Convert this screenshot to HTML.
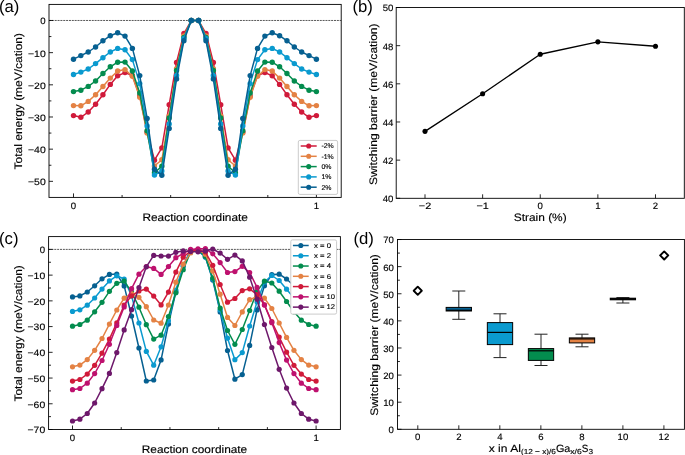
<!DOCTYPE html>
<html><head><meta charset="utf-8"><style>
html,body{margin:0;padding:0;background:#fff;}
body{width:685px;height:455px;overflow:hidden;}
svg{display:block;font-family:"Liberation Sans", sans-serif;will-change:transform;text-rendering:geometricPrecision;}
text{fill:#000;stroke:#000;stroke-width:0.15px;}
</style></head><body>
<svg width="685" height="455" viewBox="0 0 685 455">
<rect width="685" height="455" fill="#fff"/>
<text x="-1.00" y="11.90" font-size="16.7" text-anchor="start" style="stroke-width:0">(a)</text>
<line x1="49.00" y1="20.48" x2="341.20" y2="20.48" stroke="#222" stroke-width="0.75" stroke-dasharray="2 0.85"/>
<polyline points="73.50,115.60 80.86,117.30 88.22,112.00 95.58,104.30 102.94,94.70 110.30,84.40 117.66,75.70 125.02,72.60 132.38,75.50 139.75,96.00 147.11,132.00 154.47,160.20 161.83,147.90 169.19,104.70 176.55,62.50 183.91,33.50 191.27,20.50 198.63,20.50 205.99,33.50 213.35,62.50 220.71,104.70 228.07,147.90 235.43,160.20 242.79,132.00 250.15,96.00 257.52,75.50 264.88,72.60 272.24,75.70 279.60,84.40 286.96,94.70 294.32,104.30 301.68,112.00 309.04,117.30 316.40,115.60" fill="none" stroke="#d01a3a" stroke-width="1.5" stroke-linejoin="round"/>
<circle cx="73.50" cy="115.60" r="2.7" fill="#d01a3a"/>
<circle cx="80.86" cy="117.30" r="2.7" fill="#d01a3a"/>
<circle cx="88.22" cy="112.00" r="2.7" fill="#d01a3a"/>
<circle cx="95.58" cy="104.30" r="2.7" fill="#d01a3a"/>
<circle cx="102.94" cy="94.70" r="2.7" fill="#d01a3a"/>
<circle cx="110.30" cy="84.40" r="2.7" fill="#d01a3a"/>
<circle cx="117.66" cy="75.70" r="2.7" fill="#d01a3a"/>
<circle cx="125.02" cy="72.60" r="2.7" fill="#d01a3a"/>
<circle cx="132.38" cy="75.50" r="2.7" fill="#d01a3a"/>
<circle cx="139.75" cy="96.00" r="2.7" fill="#d01a3a"/>
<circle cx="147.11" cy="132.00" r="2.7" fill="#d01a3a"/>
<circle cx="154.47" cy="160.20" r="2.7" fill="#d01a3a"/>
<circle cx="161.83" cy="147.90" r="2.7" fill="#d01a3a"/>
<circle cx="169.19" cy="104.70" r="2.7" fill="#d01a3a"/>
<circle cx="176.55" cy="62.50" r="2.7" fill="#d01a3a"/>
<circle cx="183.91" cy="33.50" r="2.7" fill="#d01a3a"/>
<circle cx="191.27" cy="20.50" r="2.7" fill="#d01a3a"/>
<circle cx="198.63" cy="20.50" r="2.7" fill="#d01a3a"/>
<circle cx="205.99" cy="33.50" r="2.7" fill="#d01a3a"/>
<circle cx="213.35" cy="62.50" r="2.7" fill="#d01a3a"/>
<circle cx="220.71" cy="104.70" r="2.7" fill="#d01a3a"/>
<circle cx="228.07" cy="147.90" r="2.7" fill="#d01a3a"/>
<circle cx="235.43" cy="160.20" r="2.7" fill="#d01a3a"/>
<circle cx="242.79" cy="132.00" r="2.7" fill="#d01a3a"/>
<circle cx="250.15" cy="96.00" r="2.7" fill="#d01a3a"/>
<circle cx="257.52" cy="75.50" r="2.7" fill="#d01a3a"/>
<circle cx="264.88" cy="72.60" r="2.7" fill="#d01a3a"/>
<circle cx="272.24" cy="75.70" r="2.7" fill="#d01a3a"/>
<circle cx="279.60" cy="84.40" r="2.7" fill="#d01a3a"/>
<circle cx="286.96" cy="94.70" r="2.7" fill="#d01a3a"/>
<circle cx="294.32" cy="104.30" r="2.7" fill="#d01a3a"/>
<circle cx="301.68" cy="112.00" r="2.7" fill="#d01a3a"/>
<circle cx="309.04" cy="117.30" r="2.7" fill="#d01a3a"/>
<circle cx="316.40" cy="115.60" r="2.7" fill="#d01a3a"/>
<polyline points="73.50,105.60 80.86,105.80 88.22,101.40 95.58,94.80 102.94,86.50 110.30,78.10 117.66,71.00 125.02,69.60 132.38,76.30 139.75,97.20 147.11,133.00 154.47,166.00 161.83,159.80 169.19,116.00 176.55,68.80 183.91,36.00 191.27,20.50 198.63,20.50 205.99,36.00 213.35,68.80 220.71,116.00 228.07,159.80 235.43,166.00 242.79,133.00 250.15,97.20 257.52,76.30 264.88,69.60 272.24,71.00 279.60,78.10 286.96,86.50 294.32,94.80 301.68,101.40 309.04,105.80 316.40,105.60" fill="none" stroke="#e48244" stroke-width="1.5" stroke-linejoin="round"/>
<circle cx="73.50" cy="105.60" r="2.7" fill="#e48244"/>
<circle cx="80.86" cy="105.80" r="2.7" fill="#e48244"/>
<circle cx="88.22" cy="101.40" r="2.7" fill="#e48244"/>
<circle cx="95.58" cy="94.80" r="2.7" fill="#e48244"/>
<circle cx="102.94" cy="86.50" r="2.7" fill="#e48244"/>
<circle cx="110.30" cy="78.10" r="2.7" fill="#e48244"/>
<circle cx="117.66" cy="71.00" r="2.7" fill="#e48244"/>
<circle cx="125.02" cy="69.60" r="2.7" fill="#e48244"/>
<circle cx="132.38" cy="76.30" r="2.7" fill="#e48244"/>
<circle cx="139.75" cy="97.20" r="2.7" fill="#e48244"/>
<circle cx="147.11" cy="133.00" r="2.7" fill="#e48244"/>
<circle cx="154.47" cy="166.00" r="2.7" fill="#e48244"/>
<circle cx="161.83" cy="159.80" r="2.7" fill="#e48244"/>
<circle cx="169.19" cy="116.00" r="2.7" fill="#e48244"/>
<circle cx="176.55" cy="68.80" r="2.7" fill="#e48244"/>
<circle cx="183.91" cy="36.00" r="2.7" fill="#e48244"/>
<circle cx="191.27" cy="20.50" r="2.7" fill="#e48244"/>
<circle cx="198.63" cy="20.50" r="2.7" fill="#e48244"/>
<circle cx="205.99" cy="36.00" r="2.7" fill="#e48244"/>
<circle cx="213.35" cy="68.80" r="2.7" fill="#e48244"/>
<circle cx="220.71" cy="116.00" r="2.7" fill="#e48244"/>
<circle cx="228.07" cy="159.80" r="2.7" fill="#e48244"/>
<circle cx="235.43" cy="166.00" r="2.7" fill="#e48244"/>
<circle cx="242.79" cy="133.00" r="2.7" fill="#e48244"/>
<circle cx="250.15" cy="97.20" r="2.7" fill="#e48244"/>
<circle cx="257.52" cy="76.30" r="2.7" fill="#e48244"/>
<circle cx="264.88" cy="69.60" r="2.7" fill="#e48244"/>
<circle cx="272.24" cy="71.00" r="2.7" fill="#e48244"/>
<circle cx="279.60" cy="78.10" r="2.7" fill="#e48244"/>
<circle cx="286.96" cy="86.50" r="2.7" fill="#e48244"/>
<circle cx="294.32" cy="94.80" r="2.7" fill="#e48244"/>
<circle cx="301.68" cy="101.40" r="2.7" fill="#e48244"/>
<circle cx="309.04" cy="105.80" r="2.7" fill="#e48244"/>
<circle cx="316.40" cy="105.60" r="2.7" fill="#e48244"/>
<polyline points="73.50,91.60 80.86,90.20 88.22,86.40 95.58,81.00 102.94,73.50 110.30,66.80 117.66,62.20 125.02,62.10 132.38,71.00 139.75,93.00 147.11,130.80 154.47,172.70 161.83,166.20 169.19,117.90 176.55,70.50 183.91,37.50 191.27,20.50 198.63,20.50 205.99,37.50 213.35,70.50 220.71,117.90 228.07,166.20 235.43,172.70 242.79,130.80 250.15,93.00 257.52,71.00 264.88,62.10 272.24,62.20 279.60,66.80 286.96,73.50 294.32,81.00 301.68,86.40 309.04,90.20 316.40,91.60" fill="none" stroke="#038c4e" stroke-width="1.5" stroke-linejoin="round"/>
<circle cx="73.50" cy="91.60" r="2.7" fill="#038c4e"/>
<circle cx="80.86" cy="90.20" r="2.7" fill="#038c4e"/>
<circle cx="88.22" cy="86.40" r="2.7" fill="#038c4e"/>
<circle cx="95.58" cy="81.00" r="2.7" fill="#038c4e"/>
<circle cx="102.94" cy="73.50" r="2.7" fill="#038c4e"/>
<circle cx="110.30" cy="66.80" r="2.7" fill="#038c4e"/>
<circle cx="117.66" cy="62.20" r="2.7" fill="#038c4e"/>
<circle cx="125.02" cy="62.10" r="2.7" fill="#038c4e"/>
<circle cx="132.38" cy="71.00" r="2.7" fill="#038c4e"/>
<circle cx="139.75" cy="93.00" r="2.7" fill="#038c4e"/>
<circle cx="147.11" cy="130.80" r="2.7" fill="#038c4e"/>
<circle cx="154.47" cy="172.70" r="2.7" fill="#038c4e"/>
<circle cx="161.83" cy="166.20" r="2.7" fill="#038c4e"/>
<circle cx="169.19" cy="117.90" r="2.7" fill="#038c4e"/>
<circle cx="176.55" cy="70.50" r="2.7" fill="#038c4e"/>
<circle cx="183.91" cy="37.50" r="2.7" fill="#038c4e"/>
<circle cx="191.27" cy="20.50" r="2.7" fill="#038c4e"/>
<circle cx="198.63" cy="20.50" r="2.7" fill="#038c4e"/>
<circle cx="205.99" cy="37.50" r="2.7" fill="#038c4e"/>
<circle cx="213.35" cy="70.50" r="2.7" fill="#038c4e"/>
<circle cx="220.71" cy="117.90" r="2.7" fill="#038c4e"/>
<circle cx="228.07" cy="166.20" r="2.7" fill="#038c4e"/>
<circle cx="235.43" cy="172.70" r="2.7" fill="#038c4e"/>
<circle cx="242.79" cy="130.80" r="2.7" fill="#038c4e"/>
<circle cx="250.15" cy="93.00" r="2.7" fill="#038c4e"/>
<circle cx="257.52" cy="71.00" r="2.7" fill="#038c4e"/>
<circle cx="264.88" cy="62.10" r="2.7" fill="#038c4e"/>
<circle cx="272.24" cy="62.20" r="2.7" fill="#038c4e"/>
<circle cx="279.60" cy="66.80" r="2.7" fill="#038c4e"/>
<circle cx="286.96" cy="73.50" r="2.7" fill="#038c4e"/>
<circle cx="294.32" cy="81.00" r="2.7" fill="#038c4e"/>
<circle cx="301.68" cy="86.40" r="2.7" fill="#038c4e"/>
<circle cx="309.04" cy="90.20" r="2.7" fill="#038c4e"/>
<circle cx="316.40" cy="91.60" r="2.7" fill="#038c4e"/>
<polyline points="73.50,74.50 80.86,72.10 88.22,69.00 95.58,63.60 102.94,57.70 110.30,52.00 117.66,48.40 125.02,49.80 132.38,59.60 139.75,83.60 147.11,126.00 154.47,175.10 161.83,171.00 169.19,124.00 176.55,75.40 183.91,38.50 191.27,20.50 198.63,20.50 205.99,38.50 213.35,75.40 220.71,124.00 228.07,171.00 235.43,175.10 242.79,126.00 250.15,83.60 257.52,59.60 264.88,49.80 272.24,48.40 279.60,52.00 286.96,57.70 294.32,63.60 301.68,69.00 309.04,72.10 316.40,74.50" fill="none" stroke="#0a9acf" stroke-width="1.5" stroke-linejoin="round"/>
<circle cx="73.50" cy="74.50" r="2.7" fill="#0a9acf"/>
<circle cx="80.86" cy="72.10" r="2.7" fill="#0a9acf"/>
<circle cx="88.22" cy="69.00" r="2.7" fill="#0a9acf"/>
<circle cx="95.58" cy="63.60" r="2.7" fill="#0a9acf"/>
<circle cx="102.94" cy="57.70" r="2.7" fill="#0a9acf"/>
<circle cx="110.30" cy="52.00" r="2.7" fill="#0a9acf"/>
<circle cx="117.66" cy="48.40" r="2.7" fill="#0a9acf"/>
<circle cx="125.02" cy="49.80" r="2.7" fill="#0a9acf"/>
<circle cx="132.38" cy="59.60" r="2.7" fill="#0a9acf"/>
<circle cx="139.75" cy="83.60" r="2.7" fill="#0a9acf"/>
<circle cx="147.11" cy="126.00" r="2.7" fill="#0a9acf"/>
<circle cx="154.47" cy="175.10" r="2.7" fill="#0a9acf"/>
<circle cx="161.83" cy="171.00" r="2.7" fill="#0a9acf"/>
<circle cx="169.19" cy="124.00" r="2.7" fill="#0a9acf"/>
<circle cx="176.55" cy="75.40" r="2.7" fill="#0a9acf"/>
<circle cx="183.91" cy="38.50" r="2.7" fill="#0a9acf"/>
<circle cx="191.27" cy="20.50" r="2.7" fill="#0a9acf"/>
<circle cx="198.63" cy="20.50" r="2.7" fill="#0a9acf"/>
<circle cx="205.99" cy="38.50" r="2.7" fill="#0a9acf"/>
<circle cx="213.35" cy="75.40" r="2.7" fill="#0a9acf"/>
<circle cx="220.71" cy="124.00" r="2.7" fill="#0a9acf"/>
<circle cx="228.07" cy="171.00" r="2.7" fill="#0a9acf"/>
<circle cx="235.43" cy="175.10" r="2.7" fill="#0a9acf"/>
<circle cx="242.79" cy="126.00" r="2.7" fill="#0a9acf"/>
<circle cx="250.15" cy="83.60" r="2.7" fill="#0a9acf"/>
<circle cx="257.52" cy="59.60" r="2.7" fill="#0a9acf"/>
<circle cx="264.88" cy="49.80" r="2.7" fill="#0a9acf"/>
<circle cx="272.24" cy="48.40" r="2.7" fill="#0a9acf"/>
<circle cx="279.60" cy="52.00" r="2.7" fill="#0a9acf"/>
<circle cx="286.96" cy="57.70" r="2.7" fill="#0a9acf"/>
<circle cx="294.32" cy="63.60" r="2.7" fill="#0a9acf"/>
<circle cx="301.68" cy="69.00" r="2.7" fill="#0a9acf"/>
<circle cx="309.04" cy="72.10" r="2.7" fill="#0a9acf"/>
<circle cx="316.40" cy="74.50" r="2.7" fill="#0a9acf"/>
<polyline points="73.50,59.20 80.86,55.60 88.22,52.00 95.58,47.00 102.94,40.80 110.30,35.70 117.66,32.80 125.02,36.10 132.38,48.40 139.75,75.60 147.11,118.40 154.47,169.20 161.83,175.30 169.19,128.40 176.55,78.90 183.91,40.70 191.27,20.50 198.63,20.50 205.99,40.70 213.35,78.90 220.71,128.40 228.07,175.30 235.43,169.20 242.79,118.40 250.15,75.60 257.52,48.40 264.88,36.10 272.24,32.80 279.60,35.70 286.96,40.80 294.32,47.00 301.68,52.00 309.04,55.60 316.40,59.20" fill="none" stroke="#066091" stroke-width="1.5" stroke-linejoin="round"/>
<circle cx="73.50" cy="59.20" r="2.7" fill="#066091"/>
<circle cx="80.86" cy="55.60" r="2.7" fill="#066091"/>
<circle cx="88.22" cy="52.00" r="2.7" fill="#066091"/>
<circle cx="95.58" cy="47.00" r="2.7" fill="#066091"/>
<circle cx="102.94" cy="40.80" r="2.7" fill="#066091"/>
<circle cx="110.30" cy="35.70" r="2.7" fill="#066091"/>
<circle cx="117.66" cy="32.80" r="2.7" fill="#066091"/>
<circle cx="125.02" cy="36.10" r="2.7" fill="#066091"/>
<circle cx="132.38" cy="48.40" r="2.7" fill="#066091"/>
<circle cx="139.75" cy="75.60" r="2.7" fill="#066091"/>
<circle cx="147.11" cy="118.40" r="2.7" fill="#066091"/>
<circle cx="154.47" cy="169.20" r="2.7" fill="#066091"/>
<circle cx="161.83" cy="175.30" r="2.7" fill="#066091"/>
<circle cx="169.19" cy="128.40" r="2.7" fill="#066091"/>
<circle cx="176.55" cy="78.90" r="2.7" fill="#066091"/>
<circle cx="183.91" cy="40.70" r="2.7" fill="#066091"/>
<circle cx="191.27" cy="20.50" r="2.7" fill="#066091"/>
<circle cx="198.63" cy="20.50" r="2.7" fill="#066091"/>
<circle cx="205.99" cy="40.70" r="2.7" fill="#066091"/>
<circle cx="213.35" cy="78.90" r="2.7" fill="#066091"/>
<circle cx="220.71" cy="128.40" r="2.7" fill="#066091"/>
<circle cx="228.07" cy="175.30" r="2.7" fill="#066091"/>
<circle cx="235.43" cy="169.20" r="2.7" fill="#066091"/>
<circle cx="242.79" cy="118.40" r="2.7" fill="#066091"/>
<circle cx="250.15" cy="75.60" r="2.7" fill="#066091"/>
<circle cx="257.52" cy="48.40" r="2.7" fill="#066091"/>
<circle cx="264.88" cy="36.10" r="2.7" fill="#066091"/>
<circle cx="272.24" cy="32.80" r="2.7" fill="#066091"/>
<circle cx="279.60" cy="35.70" r="2.7" fill="#066091"/>
<circle cx="286.96" cy="40.80" r="2.7" fill="#066091"/>
<circle cx="294.32" cy="47.00" r="2.7" fill="#066091"/>
<circle cx="301.68" cy="52.00" r="2.7" fill="#066091"/>
<circle cx="309.04" cy="55.60" r="2.7" fill="#066091"/>
<circle cx="316.40" cy="59.20" r="2.7" fill="#066091"/>
<rect x="49.00" y="4.40" width="292.20" height="193.00" fill="none" stroke="#000" stroke-width="0.9"/>
<line x1="49.00" y1="20.48" x2="53.00" y2="20.48" stroke="#000" stroke-width="0.85"/>
<line x1="49.00" y1="52.65" x2="53.00" y2="52.65" stroke="#000" stroke-width="0.85"/>
<line x1="49.00" y1="84.82" x2="53.00" y2="84.82" stroke="#000" stroke-width="0.85"/>
<line x1="49.00" y1="116.99" x2="53.00" y2="116.99" stroke="#000" stroke-width="0.85"/>
<line x1="49.00" y1="149.16" x2="53.00" y2="149.16" stroke="#000" stroke-width="0.85"/>
<line x1="49.00" y1="181.33" x2="53.00" y2="181.33" stroke="#000" stroke-width="0.85"/>
<line x1="49.00" y1="36.56" x2="51.40" y2="36.56" stroke="#000" stroke-width="0.85"/>
<line x1="49.00" y1="68.73" x2="51.40" y2="68.73" stroke="#000" stroke-width="0.85"/>
<line x1="49.00" y1="100.91" x2="51.40" y2="100.91" stroke="#000" stroke-width="0.85"/>
<line x1="49.00" y1="133.07" x2="51.40" y2="133.07" stroke="#000" stroke-width="0.85"/>
<line x1="49.00" y1="165.25" x2="51.40" y2="165.25" stroke="#000" stroke-width="0.85"/>
<line x1="73.50" y1="197.40" x2="73.50" y2="193.40" stroke="#000" stroke-width="0.85"/>
<line x1="316.40" y1="197.40" x2="316.40" y2="193.40" stroke="#000" stroke-width="0.85"/>
<line x1="122.08" y1="197.40" x2="122.08" y2="195.00" stroke="#000" stroke-width="0.85"/>
<line x1="170.66" y1="197.40" x2="170.66" y2="195.00" stroke="#000" stroke-width="0.85"/>
<line x1="219.24" y1="197.40" x2="219.24" y2="195.00" stroke="#000" stroke-width="0.85"/>
<line x1="267.82" y1="197.40" x2="267.82" y2="195.00" stroke="#000" stroke-width="0.85"/>
<text x="45.70" y="24.38" font-size="9.27" text-anchor="end" textLength="5.33" lengthAdjust="spacingAndGlyphs">0</text>
<text x="45.70" y="56.55" font-size="9.27" text-anchor="end" textLength="17.66" lengthAdjust="spacingAndGlyphs">−10</text>
<text x="45.70" y="88.72" font-size="9.27" text-anchor="end" textLength="17.66" lengthAdjust="spacingAndGlyphs">−20</text>
<text x="45.70" y="120.89" font-size="9.27" text-anchor="end" textLength="17.66" lengthAdjust="spacingAndGlyphs">−30</text>
<text x="45.70" y="153.06" font-size="9.27" text-anchor="end" textLength="17.66" lengthAdjust="spacingAndGlyphs">−40</text>
<text x="45.70" y="185.23" font-size="9.27" text-anchor="end" textLength="17.66" lengthAdjust="spacingAndGlyphs">−50</text>
<text x="73.50" y="208.50" font-size="9.27" text-anchor="middle" textLength="5.33" lengthAdjust="spacingAndGlyphs">0</text>
<text x="316.40" y="208.50" font-size="9.27" text-anchor="middle" textLength="5.33" lengthAdjust="spacingAndGlyphs">1</text>
<text x="195.20" y="220.80" font-size="10.87" text-anchor="middle" textLength="105.44" lengthAdjust="spacingAndGlyphs">Reaction coordinate</text>
<text x="21.80" y="101.20" font-size="10.87" text-anchor="middle" textLength="136.35" lengthAdjust="spacingAndGlyphs" transform="rotate(-90 21.80 101.20)">Total energy (meV/cation)</text>
<text x="352.40" y="12.00" font-size="16.7" text-anchor="start" style="stroke-width:0">(b)</text>
<polyline points="425.01,131.33 482.63,93.74 540.25,54.25 597.87,41.84 655.49,46.23" fill="none" stroke="#000" stroke-width="1.35" stroke-linejoin="round"/>
<circle cx="425.01" cy="131.33" r="2.55" fill="#000"/>
<circle cx="482.63" cy="93.74" r="2.55" fill="#000"/>
<circle cx="540.25" cy="54.25" r="2.55" fill="#000"/>
<circle cx="597.87" cy="41.84" r="2.55" fill="#000"/>
<circle cx="655.49" cy="46.23" r="2.55" fill="#000"/>
<rect x="396.20" y="7.50" width="288.10" height="190.80" fill="none" stroke="#000" stroke-width="0.9"/>
<line x1="396.20" y1="198.30" x2="400.20" y2="198.30" stroke="#000" stroke-width="0.85"/>
<line x1="396.20" y1="160.14" x2="400.20" y2="160.14" stroke="#000" stroke-width="0.85"/>
<line x1="396.20" y1="121.98" x2="400.20" y2="121.98" stroke="#000" stroke-width="0.85"/>
<line x1="396.20" y1="83.82" x2="400.20" y2="83.82" stroke="#000" stroke-width="0.85"/>
<line x1="396.20" y1="45.66" x2="400.20" y2="45.66" stroke="#000" stroke-width="0.85"/>
<line x1="396.20" y1="7.50" x2="400.20" y2="7.50" stroke="#000" stroke-width="0.85"/>
<line x1="425.01" y1="198.30" x2="425.01" y2="194.30" stroke="#000" stroke-width="0.85"/>
<line x1="482.63" y1="198.30" x2="482.63" y2="194.30" stroke="#000" stroke-width="0.85"/>
<line x1="540.25" y1="198.30" x2="540.25" y2="194.30" stroke="#000" stroke-width="0.85"/>
<line x1="597.87" y1="198.30" x2="597.87" y2="194.30" stroke="#000" stroke-width="0.85"/>
<line x1="655.49" y1="198.30" x2="655.49" y2="194.30" stroke="#000" stroke-width="0.85"/>
<text x="393.30" y="202.20" font-size="9.27" text-anchor="end" textLength="10.65" lengthAdjust="spacingAndGlyphs">40</text>
<text x="393.30" y="164.04" font-size="9.27" text-anchor="end" textLength="10.65" lengthAdjust="spacingAndGlyphs">42</text>
<text x="393.30" y="125.88" font-size="9.27" text-anchor="end" textLength="10.65" lengthAdjust="spacingAndGlyphs">44</text>
<text x="393.30" y="87.72" font-size="9.27" text-anchor="end" textLength="10.65" lengthAdjust="spacingAndGlyphs">46</text>
<text x="393.30" y="49.56" font-size="9.27" text-anchor="end" textLength="10.65" lengthAdjust="spacingAndGlyphs">48</text>
<text x="393.30" y="11.40" font-size="9.27" text-anchor="end" textLength="10.65" lengthAdjust="spacingAndGlyphs">50</text>
<text x="425.01" y="209.20" font-size="9.27" text-anchor="middle" textLength="12.34" lengthAdjust="spacingAndGlyphs">−2</text>
<text x="482.63" y="209.20" font-size="9.27" text-anchor="middle" textLength="12.34" lengthAdjust="spacingAndGlyphs">−1</text>
<text x="540.25" y="209.20" font-size="9.27" text-anchor="middle" textLength="5.33" lengthAdjust="spacingAndGlyphs">0</text>
<text x="597.87" y="209.20" font-size="9.27" text-anchor="middle" textLength="5.33" lengthAdjust="spacingAndGlyphs">1</text>
<text x="655.49" y="209.20" font-size="9.27" text-anchor="middle" textLength="5.33" lengthAdjust="spacingAndGlyphs">2</text>
<text x="540.20" y="220.80" font-size="10.87" text-anchor="middle" textLength="52.86" lengthAdjust="spacingAndGlyphs">Strain (%)</text>
<text x="377.30" y="104.20" font-size="10.87" text-anchor="middle" textLength="161.56" lengthAdjust="spacingAndGlyphs" transform="rotate(-90 377.30 104.20)">Switching barrier (meV/cation)</text>
<text x="-1.00" y="243.80" font-size="16.7" text-anchor="start" style="stroke-width:0">(c)</text>
<line x1="48.60" y1="249.40" x2="340.40" y2="249.40" stroke="#222" stroke-width="0.75" stroke-dasharray="2 0.85"/>
<polyline points="72.50,296.90 79.88,295.90 87.26,292.00 94.65,285.80 102.03,278.80 109.41,274.40 116.79,274.10 124.17,285.90 131.55,316.00 138.94,348.00 146.32,381.00 153.70,380.00 161.08,359.90 168.46,324.10 175.85,292.00 183.23,266.00 190.61,250.00 197.99,250.50 205.37,257.00 212.75,280.00 220.14,311.90 227.52,350.50 234.90,379.20 242.28,374.60 249.66,345.40 257.05,309.90 264.43,285.70 271.81,274.50 279.19,274.20 286.57,279.00 293.95,285.80 301.34,292.00 308.72,295.90 316.10,296.90" fill="none" stroke="#066091" stroke-width="1.5" stroke-linejoin="round"/>
<circle cx="72.50" cy="296.90" r="2.6" fill="#066091"/>
<circle cx="79.88" cy="295.90" r="2.6" fill="#066091"/>
<circle cx="87.26" cy="292.00" r="2.6" fill="#066091"/>
<circle cx="94.65" cy="285.80" r="2.6" fill="#066091"/>
<circle cx="102.03" cy="278.80" r="2.6" fill="#066091"/>
<circle cx="109.41" cy="274.40" r="2.6" fill="#066091"/>
<circle cx="116.79" cy="274.10" r="2.6" fill="#066091"/>
<circle cx="124.17" cy="285.90" r="2.6" fill="#066091"/>
<circle cx="131.55" cy="316.00" r="2.6" fill="#066091"/>
<circle cx="138.94" cy="348.00" r="2.6" fill="#066091"/>
<circle cx="146.32" cy="381.00" r="2.6" fill="#066091"/>
<circle cx="153.70" cy="380.00" r="2.6" fill="#066091"/>
<circle cx="161.08" cy="359.90" r="2.6" fill="#066091"/>
<circle cx="168.46" cy="324.10" r="2.6" fill="#066091"/>
<circle cx="175.85" cy="292.00" r="2.6" fill="#066091"/>
<circle cx="183.23" cy="266.00" r="2.6" fill="#066091"/>
<circle cx="190.61" cy="250.00" r="2.6" fill="#066091"/>
<circle cx="197.99" cy="250.50" r="2.6" fill="#066091"/>
<circle cx="205.37" cy="257.00" r="2.6" fill="#066091"/>
<circle cx="212.75" cy="280.00" r="2.6" fill="#066091"/>
<circle cx="220.14" cy="311.90" r="2.6" fill="#066091"/>
<circle cx="227.52" cy="350.50" r="2.6" fill="#066091"/>
<circle cx="234.90" cy="379.20" r="2.6" fill="#066091"/>
<circle cx="242.28" cy="374.60" r="2.6" fill="#066091"/>
<circle cx="249.66" cy="345.40" r="2.6" fill="#066091"/>
<circle cx="257.05" cy="309.90" r="2.6" fill="#066091"/>
<circle cx="264.43" cy="285.70" r="2.6" fill="#066091"/>
<circle cx="271.81" cy="274.50" r="2.6" fill="#066091"/>
<circle cx="279.19" cy="274.20" r="2.6" fill="#066091"/>
<circle cx="286.57" cy="279.00" r="2.6" fill="#066091"/>
<circle cx="293.95" cy="285.80" r="2.6" fill="#066091"/>
<circle cx="301.34" cy="292.00" r="2.6" fill="#066091"/>
<circle cx="308.72" cy="295.90" r="2.6" fill="#066091"/>
<circle cx="316.10" cy="296.90" r="2.6" fill="#066091"/>
<polyline points="72.50,311.40 79.88,309.80 87.26,305.20 94.65,298.00 102.03,289.10 109.41,280.90 116.79,275.80 124.17,279.00 131.55,296.00 138.94,323.00 146.32,351.40 153.70,365.20 161.08,346.80 168.46,320.80 175.85,290.20 183.23,266.00 190.61,250.00 197.99,250.50 205.37,257.00 212.75,279.00 220.14,310.00 227.52,338.20 234.90,359.70 242.28,352.60 249.66,326.00 257.05,302.00 264.43,282.00 271.81,275.50 279.19,280.50 286.57,289.20 293.95,298.00 301.34,305.20 308.72,309.80 316.10,311.40" fill="none" stroke="#0a9acf" stroke-width="1.5" stroke-linejoin="round"/>
<circle cx="72.50" cy="311.40" r="2.6" fill="#0a9acf"/>
<circle cx="79.88" cy="309.80" r="2.6" fill="#0a9acf"/>
<circle cx="87.26" cy="305.20" r="2.6" fill="#0a9acf"/>
<circle cx="94.65" cy="298.00" r="2.6" fill="#0a9acf"/>
<circle cx="102.03" cy="289.10" r="2.6" fill="#0a9acf"/>
<circle cx="109.41" cy="280.90" r="2.6" fill="#0a9acf"/>
<circle cx="116.79" cy="275.80" r="2.6" fill="#0a9acf"/>
<circle cx="124.17" cy="279.00" r="2.6" fill="#0a9acf"/>
<circle cx="131.55" cy="296.00" r="2.6" fill="#0a9acf"/>
<circle cx="138.94" cy="323.00" r="2.6" fill="#0a9acf"/>
<circle cx="146.32" cy="351.40" r="2.6" fill="#0a9acf"/>
<circle cx="153.70" cy="365.20" r="2.6" fill="#0a9acf"/>
<circle cx="161.08" cy="346.80" r="2.6" fill="#0a9acf"/>
<circle cx="168.46" cy="320.80" r="2.6" fill="#0a9acf"/>
<circle cx="175.85" cy="290.20" r="2.6" fill="#0a9acf"/>
<circle cx="183.23" cy="266.00" r="2.6" fill="#0a9acf"/>
<circle cx="190.61" cy="250.00" r="2.6" fill="#0a9acf"/>
<circle cx="197.99" cy="250.50" r="2.6" fill="#0a9acf"/>
<circle cx="205.37" cy="257.00" r="2.6" fill="#0a9acf"/>
<circle cx="212.75" cy="279.00" r="2.6" fill="#0a9acf"/>
<circle cx="220.14" cy="310.00" r="2.6" fill="#0a9acf"/>
<circle cx="227.52" cy="338.20" r="2.6" fill="#0a9acf"/>
<circle cx="234.90" cy="359.70" r="2.6" fill="#0a9acf"/>
<circle cx="242.28" cy="352.60" r="2.6" fill="#0a9acf"/>
<circle cx="249.66" cy="326.00" r="2.6" fill="#0a9acf"/>
<circle cx="257.05" cy="302.00" r="2.6" fill="#0a9acf"/>
<circle cx="264.43" cy="282.00" r="2.6" fill="#0a9acf"/>
<circle cx="271.81" cy="275.50" r="2.6" fill="#0a9acf"/>
<circle cx="279.19" cy="280.50" r="2.6" fill="#0a9acf"/>
<circle cx="286.57" cy="289.20" r="2.6" fill="#0a9acf"/>
<circle cx="293.95" cy="298.00" r="2.6" fill="#0a9acf"/>
<circle cx="301.34" cy="305.20" r="2.6" fill="#0a9acf"/>
<circle cx="308.72" cy="309.80" r="2.6" fill="#0a9acf"/>
<circle cx="316.10" cy="311.40" r="2.6" fill="#0a9acf"/>
<polyline points="72.50,326.20 79.88,324.50 87.26,320.20 94.65,311.80 102.03,302.30 109.41,291.30 116.79,283.30 124.17,281.10 131.55,292.00 138.94,307.20 146.32,324.70 153.70,339.10 161.08,335.20 168.46,316.50 175.85,292.80 183.23,269.70 190.61,252.00 197.99,250.00 205.37,256.30 212.75,278.10 220.14,308.10 227.52,330.50 234.90,344.30 242.28,329.50 249.66,310.50 257.05,291.40 264.43,281.10 271.81,283.00 279.19,291.20 286.57,301.50 293.95,311.80 301.34,320.20 308.72,324.50 316.10,326.20" fill="none" stroke="#038c4e" stroke-width="1.5" stroke-linejoin="round"/>
<circle cx="72.50" cy="326.20" r="2.6" fill="#038c4e"/>
<circle cx="79.88" cy="324.50" r="2.6" fill="#038c4e"/>
<circle cx="87.26" cy="320.20" r="2.6" fill="#038c4e"/>
<circle cx="94.65" cy="311.80" r="2.6" fill="#038c4e"/>
<circle cx="102.03" cy="302.30" r="2.6" fill="#038c4e"/>
<circle cx="109.41" cy="291.30" r="2.6" fill="#038c4e"/>
<circle cx="116.79" cy="283.30" r="2.6" fill="#038c4e"/>
<circle cx="124.17" cy="281.10" r="2.6" fill="#038c4e"/>
<circle cx="131.55" cy="292.00" r="2.6" fill="#038c4e"/>
<circle cx="138.94" cy="307.20" r="2.6" fill="#038c4e"/>
<circle cx="146.32" cy="324.70" r="2.6" fill="#038c4e"/>
<circle cx="153.70" cy="339.10" r="2.6" fill="#038c4e"/>
<circle cx="161.08" cy="335.20" r="2.6" fill="#038c4e"/>
<circle cx="168.46" cy="316.50" r="2.6" fill="#038c4e"/>
<circle cx="175.85" cy="292.80" r="2.6" fill="#038c4e"/>
<circle cx="183.23" cy="269.70" r="2.6" fill="#038c4e"/>
<circle cx="190.61" cy="252.00" r="2.6" fill="#038c4e"/>
<circle cx="197.99" cy="250.00" r="2.6" fill="#038c4e"/>
<circle cx="205.37" cy="256.30" r="2.6" fill="#038c4e"/>
<circle cx="212.75" cy="278.10" r="2.6" fill="#038c4e"/>
<circle cx="220.14" cy="308.10" r="2.6" fill="#038c4e"/>
<circle cx="227.52" cy="330.50" r="2.6" fill="#038c4e"/>
<circle cx="234.90" cy="344.30" r="2.6" fill="#038c4e"/>
<circle cx="242.28" cy="329.50" r="2.6" fill="#038c4e"/>
<circle cx="249.66" cy="310.50" r="2.6" fill="#038c4e"/>
<circle cx="257.05" cy="291.40" r="2.6" fill="#038c4e"/>
<circle cx="264.43" cy="281.10" r="2.6" fill="#038c4e"/>
<circle cx="271.81" cy="283.00" r="2.6" fill="#038c4e"/>
<circle cx="279.19" cy="291.20" r="2.6" fill="#038c4e"/>
<circle cx="286.57" cy="301.50" r="2.6" fill="#038c4e"/>
<circle cx="293.95" cy="311.80" r="2.6" fill="#038c4e"/>
<circle cx="301.34" cy="320.20" r="2.6" fill="#038c4e"/>
<circle cx="308.72" cy="324.50" r="2.6" fill="#038c4e"/>
<circle cx="316.10" cy="326.20" r="2.6" fill="#038c4e"/>
<polyline points="72.50,366.80 79.88,365.10 87.26,359.60 94.65,350.30 102.03,338.50 109.41,324.10 116.79,310.00 124.17,298.20 131.55,293.50 138.94,297.30 146.32,306.70 153.70,320.00 161.08,323.20 168.46,305.00 175.85,282.20 183.23,264.20 190.61,253.00 197.99,249.80 205.37,254.20 212.75,271.10 220.14,294.20 227.52,317.40 234.90,325.50 242.28,311.90 249.66,299.70 257.05,296.70 264.43,298.10 271.81,308.50 279.19,323.00 286.57,337.40 293.95,350.30 301.34,359.60 308.72,365.10 316.10,366.80" fill="none" stroke="#e48244" stroke-width="1.5" stroke-linejoin="round"/>
<circle cx="72.50" cy="366.80" r="2.6" fill="#e48244"/>
<circle cx="79.88" cy="365.10" r="2.6" fill="#e48244"/>
<circle cx="87.26" cy="359.60" r="2.6" fill="#e48244"/>
<circle cx="94.65" cy="350.30" r="2.6" fill="#e48244"/>
<circle cx="102.03" cy="338.50" r="2.6" fill="#e48244"/>
<circle cx="109.41" cy="324.10" r="2.6" fill="#e48244"/>
<circle cx="116.79" cy="310.00" r="2.6" fill="#e48244"/>
<circle cx="124.17" cy="298.20" r="2.6" fill="#e48244"/>
<circle cx="131.55" cy="293.50" r="2.6" fill="#e48244"/>
<circle cx="138.94" cy="297.30" r="2.6" fill="#e48244"/>
<circle cx="146.32" cy="306.70" r="2.6" fill="#e48244"/>
<circle cx="153.70" cy="320.00" r="2.6" fill="#e48244"/>
<circle cx="161.08" cy="323.20" r="2.6" fill="#e48244"/>
<circle cx="168.46" cy="305.00" r="2.6" fill="#e48244"/>
<circle cx="175.85" cy="282.20" r="2.6" fill="#e48244"/>
<circle cx="183.23" cy="264.20" r="2.6" fill="#e48244"/>
<circle cx="190.61" cy="253.00" r="2.6" fill="#e48244"/>
<circle cx="197.99" cy="249.80" r="2.6" fill="#e48244"/>
<circle cx="205.37" cy="254.20" r="2.6" fill="#e48244"/>
<circle cx="212.75" cy="271.10" r="2.6" fill="#e48244"/>
<circle cx="220.14" cy="294.20" r="2.6" fill="#e48244"/>
<circle cx="227.52" cy="317.40" r="2.6" fill="#e48244"/>
<circle cx="234.90" cy="325.50" r="2.6" fill="#e48244"/>
<circle cx="242.28" cy="311.90" r="2.6" fill="#e48244"/>
<circle cx="249.66" cy="299.70" r="2.6" fill="#e48244"/>
<circle cx="257.05" cy="296.70" r="2.6" fill="#e48244"/>
<circle cx="264.43" cy="298.10" r="2.6" fill="#e48244"/>
<circle cx="271.81" cy="308.50" r="2.6" fill="#e48244"/>
<circle cx="279.19" cy="323.00" r="2.6" fill="#e48244"/>
<circle cx="286.57" cy="337.40" r="2.6" fill="#e48244"/>
<circle cx="293.95" cy="350.30" r="2.6" fill="#e48244"/>
<circle cx="301.34" cy="359.60" r="2.6" fill="#e48244"/>
<circle cx="308.72" cy="365.10" r="2.6" fill="#e48244"/>
<circle cx="316.10" cy="366.80" r="2.6" fill="#e48244"/>
<polyline points="72.50,381.10 79.88,379.50 87.26,374.10 94.65,365.30 102.03,353.20 109.41,339.10 116.79,322.90 124.17,305.00 131.55,295.90 138.94,291.00 146.32,289.10 153.70,296.10 161.08,304.90 168.46,292.10 175.85,272.10 183.23,257.20 190.61,251.00 197.99,249.60 205.37,252.00 212.75,265.30 220.14,284.50 227.52,302.20 234.90,298.50 242.28,290.60 249.66,288.80 257.05,294.70 264.43,304.80 271.81,321.70 279.19,337.10 286.57,352.20 293.95,365.30 301.34,374.10 308.72,379.50 316.10,381.10" fill="none" stroke="#d01a3a" stroke-width="1.5" stroke-linejoin="round"/>
<circle cx="72.50" cy="381.10" r="2.6" fill="#d01a3a"/>
<circle cx="79.88" cy="379.50" r="2.6" fill="#d01a3a"/>
<circle cx="87.26" cy="374.10" r="2.6" fill="#d01a3a"/>
<circle cx="94.65" cy="365.30" r="2.6" fill="#d01a3a"/>
<circle cx="102.03" cy="353.20" r="2.6" fill="#d01a3a"/>
<circle cx="109.41" cy="339.10" r="2.6" fill="#d01a3a"/>
<circle cx="116.79" cy="322.90" r="2.6" fill="#d01a3a"/>
<circle cx="124.17" cy="305.00" r="2.6" fill="#d01a3a"/>
<circle cx="131.55" cy="295.90" r="2.6" fill="#d01a3a"/>
<circle cx="138.94" cy="291.00" r="2.6" fill="#d01a3a"/>
<circle cx="146.32" cy="289.10" r="2.6" fill="#d01a3a"/>
<circle cx="153.70" cy="296.10" r="2.6" fill="#d01a3a"/>
<circle cx="161.08" cy="304.90" r="2.6" fill="#d01a3a"/>
<circle cx="168.46" cy="292.10" r="2.6" fill="#d01a3a"/>
<circle cx="175.85" cy="272.10" r="2.6" fill="#d01a3a"/>
<circle cx="183.23" cy="257.20" r="2.6" fill="#d01a3a"/>
<circle cx="190.61" cy="251.00" r="2.6" fill="#d01a3a"/>
<circle cx="197.99" cy="249.60" r="2.6" fill="#d01a3a"/>
<circle cx="205.37" cy="252.00" r="2.6" fill="#d01a3a"/>
<circle cx="212.75" cy="265.30" r="2.6" fill="#d01a3a"/>
<circle cx="220.14" cy="284.50" r="2.6" fill="#d01a3a"/>
<circle cx="227.52" cy="302.20" r="2.6" fill="#d01a3a"/>
<circle cx="234.90" cy="298.50" r="2.6" fill="#d01a3a"/>
<circle cx="242.28" cy="290.60" r="2.6" fill="#d01a3a"/>
<circle cx="249.66" cy="288.80" r="2.6" fill="#d01a3a"/>
<circle cx="257.05" cy="294.70" r="2.6" fill="#d01a3a"/>
<circle cx="264.43" cy="304.80" r="2.6" fill="#d01a3a"/>
<circle cx="271.81" cy="321.70" r="2.6" fill="#d01a3a"/>
<circle cx="279.19" cy="337.10" r="2.6" fill="#d01a3a"/>
<circle cx="286.57" cy="352.20" r="2.6" fill="#d01a3a"/>
<circle cx="293.95" cy="365.30" r="2.6" fill="#d01a3a"/>
<circle cx="301.34" cy="374.10" r="2.6" fill="#d01a3a"/>
<circle cx="308.72" cy="379.50" r="2.6" fill="#d01a3a"/>
<circle cx="316.10" cy="381.10" r="2.6" fill="#d01a3a"/>
<polyline points="72.50,389.70 79.88,388.50 87.26,383.20 94.65,373.60 102.03,360.50 109.41,344.30 116.79,325.50 124.17,307.00 131.55,288.70 138.94,274.20 146.32,266.60 153.70,268.40 161.08,274.40 168.46,266.60 175.85,257.70 183.23,253.50 190.61,249.40 197.99,248.80 205.37,248.70 212.75,253.80 220.14,262.60 227.52,272.50 234.90,271.60 242.28,266.30 249.66,272.50 257.05,287.40 264.43,305.00 271.81,322.70 279.19,342.60 286.57,360.10 293.95,373.60 301.34,383.20 308.72,388.50 316.10,389.70" fill="none" stroke="#be116e" stroke-width="1.5" stroke-linejoin="round"/>
<circle cx="72.50" cy="389.70" r="2.6" fill="#be116e"/>
<circle cx="79.88" cy="388.50" r="2.6" fill="#be116e"/>
<circle cx="87.26" cy="383.20" r="2.6" fill="#be116e"/>
<circle cx="94.65" cy="373.60" r="2.6" fill="#be116e"/>
<circle cx="102.03" cy="360.50" r="2.6" fill="#be116e"/>
<circle cx="109.41" cy="344.30" r="2.6" fill="#be116e"/>
<circle cx="116.79" cy="325.50" r="2.6" fill="#be116e"/>
<circle cx="124.17" cy="307.00" r="2.6" fill="#be116e"/>
<circle cx="131.55" cy="288.70" r="2.6" fill="#be116e"/>
<circle cx="138.94" cy="274.20" r="2.6" fill="#be116e"/>
<circle cx="146.32" cy="266.60" r="2.6" fill="#be116e"/>
<circle cx="153.70" cy="268.40" r="2.6" fill="#be116e"/>
<circle cx="161.08" cy="274.40" r="2.6" fill="#be116e"/>
<circle cx="168.46" cy="266.60" r="2.6" fill="#be116e"/>
<circle cx="175.85" cy="257.70" r="2.6" fill="#be116e"/>
<circle cx="183.23" cy="253.50" r="2.6" fill="#be116e"/>
<circle cx="190.61" cy="249.40" r="2.6" fill="#be116e"/>
<circle cx="197.99" cy="248.80" r="2.6" fill="#be116e"/>
<circle cx="205.37" cy="248.70" r="2.6" fill="#be116e"/>
<circle cx="212.75" cy="253.80" r="2.6" fill="#be116e"/>
<circle cx="220.14" cy="262.60" r="2.6" fill="#be116e"/>
<circle cx="227.52" cy="272.50" r="2.6" fill="#be116e"/>
<circle cx="234.90" cy="271.60" r="2.6" fill="#be116e"/>
<circle cx="242.28" cy="266.30" r="2.6" fill="#be116e"/>
<circle cx="249.66" cy="272.50" r="2.6" fill="#be116e"/>
<circle cx="257.05" cy="287.40" r="2.6" fill="#be116e"/>
<circle cx="264.43" cy="305.00" r="2.6" fill="#be116e"/>
<circle cx="271.81" cy="322.70" r="2.6" fill="#be116e"/>
<circle cx="279.19" cy="342.60" r="2.6" fill="#be116e"/>
<circle cx="286.57" cy="360.10" r="2.6" fill="#be116e"/>
<circle cx="293.95" cy="373.60" r="2.6" fill="#be116e"/>
<circle cx="301.34" cy="383.20" r="2.6" fill="#be116e"/>
<circle cx="308.72" cy="388.50" r="2.6" fill="#be116e"/>
<circle cx="316.10" cy="389.70" r="2.6" fill="#be116e"/>
<polyline points="72.50,421.00 79.88,419.20 87.26,413.50 94.65,403.00 102.03,388.70 109.41,373.40 116.79,352.60 124.17,329.90 131.55,309.70 138.94,287.50 146.32,266.80 153.70,255.40 161.08,256.00 168.46,256.10 175.85,252.30 183.23,250.90 190.61,251.60 197.99,251.80 205.37,250.90 212.75,249.00 220.14,253.10 227.52,259.30 234.90,255.10 242.28,260.90 249.66,277.20 257.05,299.20 264.43,324.50 271.81,347.50 279.19,369.30 286.57,388.10 293.95,403.00 301.34,413.50 308.72,419.20 316.10,421.00" fill="none" stroke="#6e186b" stroke-width="1.5" stroke-linejoin="round"/>
<circle cx="72.50" cy="421.00" r="2.6" fill="#6e186b"/>
<circle cx="79.88" cy="419.20" r="2.6" fill="#6e186b"/>
<circle cx="87.26" cy="413.50" r="2.6" fill="#6e186b"/>
<circle cx="94.65" cy="403.00" r="2.6" fill="#6e186b"/>
<circle cx="102.03" cy="388.70" r="2.6" fill="#6e186b"/>
<circle cx="109.41" cy="373.40" r="2.6" fill="#6e186b"/>
<circle cx="116.79" cy="352.60" r="2.6" fill="#6e186b"/>
<circle cx="124.17" cy="329.90" r="2.6" fill="#6e186b"/>
<circle cx="131.55" cy="309.70" r="2.6" fill="#6e186b"/>
<circle cx="138.94" cy="287.50" r="2.6" fill="#6e186b"/>
<circle cx="146.32" cy="266.80" r="2.6" fill="#6e186b"/>
<circle cx="153.70" cy="255.40" r="2.6" fill="#6e186b"/>
<circle cx="161.08" cy="256.00" r="2.6" fill="#6e186b"/>
<circle cx="168.46" cy="256.10" r="2.6" fill="#6e186b"/>
<circle cx="175.85" cy="252.30" r="2.6" fill="#6e186b"/>
<circle cx="183.23" cy="250.90" r="2.6" fill="#6e186b"/>
<circle cx="190.61" cy="251.60" r="2.6" fill="#6e186b"/>
<circle cx="197.99" cy="251.80" r="2.6" fill="#6e186b"/>
<circle cx="205.37" cy="250.90" r="2.6" fill="#6e186b"/>
<circle cx="212.75" cy="249.00" r="2.6" fill="#6e186b"/>
<circle cx="220.14" cy="253.10" r="2.6" fill="#6e186b"/>
<circle cx="227.52" cy="259.30" r="2.6" fill="#6e186b"/>
<circle cx="234.90" cy="255.10" r="2.6" fill="#6e186b"/>
<circle cx="242.28" cy="260.90" r="2.6" fill="#6e186b"/>
<circle cx="249.66" cy="277.20" r="2.6" fill="#6e186b"/>
<circle cx="257.05" cy="299.20" r="2.6" fill="#6e186b"/>
<circle cx="264.43" cy="324.50" r="2.6" fill="#6e186b"/>
<circle cx="271.81" cy="347.50" r="2.6" fill="#6e186b"/>
<circle cx="279.19" cy="369.30" r="2.6" fill="#6e186b"/>
<circle cx="286.57" cy="388.10" r="2.6" fill="#6e186b"/>
<circle cx="293.95" cy="403.00" r="2.6" fill="#6e186b"/>
<circle cx="301.34" cy="413.50" r="2.6" fill="#6e186b"/>
<circle cx="308.72" cy="419.20" r="2.6" fill="#6e186b"/>
<circle cx="316.10" cy="421.00" r="2.6" fill="#6e186b"/>
<rect x="48.60" y="236.60" width="291.80" height="192.90" fill="none" stroke="#000" stroke-width="0.9"/>
<line x1="48.60" y1="249.40" x2="52.60" y2="249.40" stroke="#000" stroke-width="0.85"/>
<line x1="48.60" y1="275.13" x2="52.60" y2="275.13" stroke="#000" stroke-width="0.85"/>
<line x1="48.60" y1="300.86" x2="52.60" y2="300.86" stroke="#000" stroke-width="0.85"/>
<line x1="48.60" y1="326.59" x2="52.60" y2="326.59" stroke="#000" stroke-width="0.85"/>
<line x1="48.60" y1="352.32" x2="52.60" y2="352.32" stroke="#000" stroke-width="0.85"/>
<line x1="48.60" y1="378.05" x2="52.60" y2="378.05" stroke="#000" stroke-width="0.85"/>
<line x1="48.60" y1="403.78" x2="52.60" y2="403.78" stroke="#000" stroke-width="0.85"/>
<line x1="48.60" y1="429.51" x2="52.60" y2="429.51" stroke="#000" stroke-width="0.85"/>
<line x1="48.60" y1="262.26" x2="51.00" y2="262.26" stroke="#000" stroke-width="0.85"/>
<line x1="48.60" y1="288.00" x2="51.00" y2="288.00" stroke="#000" stroke-width="0.85"/>
<line x1="48.60" y1="313.73" x2="51.00" y2="313.73" stroke="#000" stroke-width="0.85"/>
<line x1="48.60" y1="339.45" x2="51.00" y2="339.45" stroke="#000" stroke-width="0.85"/>
<line x1="48.60" y1="365.19" x2="51.00" y2="365.19" stroke="#000" stroke-width="0.85"/>
<line x1="48.60" y1="390.91" x2="51.00" y2="390.91" stroke="#000" stroke-width="0.85"/>
<line x1="48.60" y1="416.64" x2="51.00" y2="416.64" stroke="#000" stroke-width="0.85"/>
<line x1="72.50" y1="429.50" x2="72.50" y2="425.50" stroke="#000" stroke-width="0.85"/>
<line x1="316.10" y1="429.50" x2="316.10" y2="425.50" stroke="#000" stroke-width="0.85"/>
<line x1="121.22" y1="429.50" x2="121.22" y2="427.10" stroke="#000" stroke-width="0.85"/>
<line x1="169.94" y1="429.50" x2="169.94" y2="427.10" stroke="#000" stroke-width="0.85"/>
<line x1="218.66" y1="429.50" x2="218.66" y2="427.10" stroke="#000" stroke-width="0.85"/>
<line x1="267.38" y1="429.50" x2="267.38" y2="427.10" stroke="#000" stroke-width="0.85"/>
<text x="45.20" y="253.30" font-size="9.27" text-anchor="end" textLength="5.33" lengthAdjust="spacingAndGlyphs">0</text>
<text x="45.20" y="279.03" font-size="9.27" text-anchor="end" textLength="17.66" lengthAdjust="spacingAndGlyphs">−10</text>
<text x="45.20" y="304.76" font-size="9.27" text-anchor="end" textLength="17.66" lengthAdjust="spacingAndGlyphs">−20</text>
<text x="45.20" y="330.49" font-size="9.27" text-anchor="end" textLength="17.66" lengthAdjust="spacingAndGlyphs">−30</text>
<text x="45.20" y="356.22" font-size="9.27" text-anchor="end" textLength="17.66" lengthAdjust="spacingAndGlyphs">−40</text>
<text x="45.20" y="381.95" font-size="9.27" text-anchor="end" textLength="17.66" lengthAdjust="spacingAndGlyphs">−50</text>
<text x="45.20" y="407.68" font-size="9.27" text-anchor="end" textLength="17.66" lengthAdjust="spacingAndGlyphs">−60</text>
<text x="45.20" y="433.41" font-size="9.27" text-anchor="end" textLength="17.66" lengthAdjust="spacingAndGlyphs">−70</text>
<text x="72.50" y="440.60" font-size="9.27" text-anchor="middle" textLength="5.33" lengthAdjust="spacingAndGlyphs">0</text>
<text x="316.10" y="440.60" font-size="9.27" text-anchor="middle" textLength="5.33" lengthAdjust="spacingAndGlyphs">1</text>
<text x="194.50" y="452.80" font-size="10.87" text-anchor="middle" textLength="105.44" lengthAdjust="spacingAndGlyphs">Reaction coordinate</text>
<text x="22.00" y="333.40" font-size="10.87" text-anchor="middle" textLength="136.35" lengthAdjust="spacingAndGlyphs" transform="rotate(-90 22.00 333.40)">Total energy (meV/cation)</text>
<text x="353.40" y="244.00" font-size="16.7" text-anchor="start" style="stroke-width:0">(d)</text>
<line x1="458.80" y1="307.40" x2="458.80" y2="291.00" stroke="#222" stroke-width="1.0"/>
<line x1="458.80" y1="311.00" x2="458.80" y2="319.30" stroke="#222" stroke-width="1.0"/>
<line x1="452.30" y1="291.00" x2="465.30" y2="291.00" stroke="#222" stroke-width="1.0"/>
<line x1="452.30" y1="319.30" x2="465.30" y2="319.30" stroke="#222" stroke-width="1.0"/>
<rect x="446.15" y="307.40" width="25.30" height="3.60" fill="#066091" stroke="#000" stroke-width="1.0"/>
<line x1="446.15" y1="310.30" x2="471.45" y2="310.30" stroke="#000" stroke-width="1.2"/>
<line x1="500.00" y1="322.60" x2="500.00" y2="313.80" stroke="#222" stroke-width="1.0"/>
<line x1="500.00" y1="344.60" x2="500.00" y2="357.60" stroke="#222" stroke-width="1.0"/>
<line x1="493.50" y1="313.80" x2="506.50" y2="313.80" stroke="#222" stroke-width="1.0"/>
<line x1="493.50" y1="357.60" x2="506.50" y2="357.60" stroke="#222" stroke-width="1.0"/>
<rect x="487.35" y="322.60" width="25.30" height="22.00" fill="#0a9acf" stroke="#000" stroke-width="1.0"/>
<line x1="487.35" y1="332.40" x2="512.65" y2="332.40" stroke="#000" stroke-width="1.2"/>
<line x1="541.00" y1="348.60" x2="541.00" y2="334.20" stroke="#222" stroke-width="1.0"/>
<line x1="541.00" y1="360.40" x2="541.00" y2="365.50" stroke="#222" stroke-width="1.0"/>
<line x1="534.50" y1="334.20" x2="547.50" y2="334.20" stroke="#222" stroke-width="1.0"/>
<line x1="534.50" y1="365.50" x2="547.50" y2="365.50" stroke="#222" stroke-width="1.0"/>
<rect x="528.35" y="348.60" width="25.30" height="11.80" fill="#038c4e" stroke="#000" stroke-width="1.0"/>
<line x1="528.35" y1="350.80" x2="553.65" y2="350.80" stroke="#000" stroke-width="1.2"/>
<line x1="582.00" y1="337.90" x2="582.00" y2="334.20" stroke="#222" stroke-width="1.0"/>
<line x1="582.00" y1="342.90" x2="582.00" y2="346.80" stroke="#222" stroke-width="1.0"/>
<line x1="575.50" y1="334.20" x2="588.50" y2="334.20" stroke="#222" stroke-width="1.0"/>
<line x1="575.50" y1="346.80" x2="588.50" y2="346.80" stroke="#222" stroke-width="1.0"/>
<rect x="569.35" y="337.90" width="25.30" height="5.00" fill="#e48244" stroke="#000" stroke-width="1.0"/>
<line x1="569.35" y1="338.90" x2="594.65" y2="338.90" stroke="#000" stroke-width="1.2"/>
<line x1="622.90" y1="298.20" x2="622.90" y2="297.60" stroke="#222" stroke-width="1.0"/>
<line x1="622.90" y1="299.80" x2="622.90" y2="303.00" stroke="#222" stroke-width="1.0"/>
<line x1="616.40" y1="297.60" x2="629.40" y2="297.60" stroke="#222" stroke-width="1.0"/>
<line x1="616.40" y1="303.00" x2="629.40" y2="303.00" stroke="#222" stroke-width="1.0"/>
<rect x="610.25" y="298.20" width="25.30" height="1.60" fill="#000" stroke="#000" stroke-width="1.0"/>
<line x1="610.25" y1="299.00" x2="635.55" y2="299.00" stroke="#000" stroke-width="1.2"/>
<polygon points="417.75,286.70 421.80,290.75 417.75,294.80 413.70,290.75" fill="#fff" stroke="#000" stroke-width="1.9" stroke-linejoin="round"/>
<polygon points="664.20,251.40 668.25,255.45 664.20,259.50 660.15,255.45" fill="#fff" stroke="#000" stroke-width="1.9" stroke-linejoin="round"/>
<rect x="397.50" y="239.50" width="286.90" height="189.80" fill="none" stroke="#000" stroke-width="0.9"/>
<line x1="397.50" y1="429.30" x2="401.50" y2="429.30" stroke="#000" stroke-width="0.85"/>
<line x1="397.50" y1="402.19" x2="401.50" y2="402.19" stroke="#000" stroke-width="0.85"/>
<line x1="397.50" y1="375.08" x2="401.50" y2="375.08" stroke="#000" stroke-width="0.85"/>
<line x1="397.50" y1="347.97" x2="401.50" y2="347.97" stroke="#000" stroke-width="0.85"/>
<line x1="397.50" y1="320.86" x2="401.50" y2="320.86" stroke="#000" stroke-width="0.85"/>
<line x1="397.50" y1="293.75" x2="401.50" y2="293.75" stroke="#000" stroke-width="0.85"/>
<line x1="397.50" y1="266.64" x2="401.50" y2="266.64" stroke="#000" stroke-width="0.85"/>
<line x1="397.50" y1="239.53" x2="401.50" y2="239.53" stroke="#000" stroke-width="0.85"/>
<line x1="397.50" y1="415.75" x2="399.90" y2="415.75" stroke="#000" stroke-width="0.85"/>
<line x1="397.50" y1="388.63" x2="399.90" y2="388.63" stroke="#000" stroke-width="0.85"/>
<line x1="397.50" y1="361.53" x2="399.90" y2="361.53" stroke="#000" stroke-width="0.85"/>
<line x1="397.50" y1="334.42" x2="399.90" y2="334.42" stroke="#000" stroke-width="0.85"/>
<line x1="397.50" y1="307.31" x2="399.90" y2="307.31" stroke="#000" stroke-width="0.85"/>
<line x1="397.50" y1="280.20" x2="399.90" y2="280.20" stroke="#000" stroke-width="0.85"/>
<line x1="397.50" y1="253.09" x2="399.90" y2="253.09" stroke="#000" stroke-width="0.85"/>
<line x1="417.80" y1="429.30" x2="417.80" y2="425.30" stroke="#000" stroke-width="0.85"/>
<line x1="458.82" y1="429.30" x2="458.82" y2="425.30" stroke="#000" stroke-width="0.85"/>
<line x1="499.84" y1="429.30" x2="499.84" y2="425.30" stroke="#000" stroke-width="0.85"/>
<line x1="540.86" y1="429.30" x2="540.86" y2="425.30" stroke="#000" stroke-width="0.85"/>
<line x1="581.88" y1="429.30" x2="581.88" y2="425.30" stroke="#000" stroke-width="0.85"/>
<line x1="622.90" y1="429.30" x2="622.90" y2="425.30" stroke="#000" stroke-width="0.85"/>
<line x1="663.92" y1="429.30" x2="663.92" y2="425.30" stroke="#000" stroke-width="0.85"/>
<text x="393.80" y="433.20" font-size="9.27" text-anchor="end" textLength="5.33" lengthAdjust="spacingAndGlyphs">0</text>
<text x="393.80" y="406.09" font-size="9.27" text-anchor="end" textLength="10.65" lengthAdjust="spacingAndGlyphs">10</text>
<text x="393.80" y="378.98" font-size="9.27" text-anchor="end" textLength="10.65" lengthAdjust="spacingAndGlyphs">20</text>
<text x="393.80" y="351.87" font-size="9.27" text-anchor="end" textLength="10.65" lengthAdjust="spacingAndGlyphs">30</text>
<text x="393.80" y="324.76" font-size="9.27" text-anchor="end" textLength="10.65" lengthAdjust="spacingAndGlyphs">40</text>
<text x="393.80" y="297.65" font-size="9.27" text-anchor="end" textLength="10.65" lengthAdjust="spacingAndGlyphs">50</text>
<text x="393.80" y="270.54" font-size="9.27" text-anchor="end" textLength="10.65" lengthAdjust="spacingAndGlyphs">60</text>
<text x="393.80" y="243.43" font-size="9.27" text-anchor="end" textLength="10.65" lengthAdjust="spacingAndGlyphs">70</text>
<text x="417.80" y="440.10" font-size="9.27" text-anchor="middle" textLength="5.33" lengthAdjust="spacingAndGlyphs">0</text>
<text x="458.82" y="440.10" font-size="9.27" text-anchor="middle" textLength="5.33" lengthAdjust="spacingAndGlyphs">2</text>
<text x="499.84" y="440.10" font-size="9.27" text-anchor="middle" textLength="5.33" lengthAdjust="spacingAndGlyphs">4</text>
<text x="540.86" y="440.10" font-size="9.27" text-anchor="middle" textLength="5.33" lengthAdjust="spacingAndGlyphs">6</text>
<text x="581.88" y="440.10" font-size="9.27" text-anchor="middle" textLength="5.33" lengthAdjust="spacingAndGlyphs">8</text>
<text x="622.90" y="440.10" font-size="9.27" text-anchor="middle" textLength="10.65" lengthAdjust="spacingAndGlyphs">10</text>
<text x="663.92" y="440.10" font-size="9.27" text-anchor="middle" textLength="10.65" lengthAdjust="spacingAndGlyphs">12</text>
<text x="488.70" y="452.10" font-size="10.55" textLength="32.20" lengthAdjust="spacingAndGlyphs">x in Al</text>
<text x="520.90" y="453.90" font-size="7.3" textLength="35.00" lengthAdjust="spacingAndGlyphs">(12 − x)/6</text>
<text x="555.90" y="452.10" font-size="10.55" textLength="14.40" lengthAdjust="spacingAndGlyphs">Ga</text>
<text x="570.30" y="453.90" font-size="7.3" textLength="11.40" lengthAdjust="spacingAndGlyphs">x/6</text>
<text x="581.70" y="452.10" font-size="10.55" textLength="6.60" lengthAdjust="spacingAndGlyphs">S</text>
<text x="588.40" y="453.90" font-size="7.3" textLength="4.60" lengthAdjust="spacingAndGlyphs">3</text>
<text x="377.80" y="334.90" font-size="10.87" text-anchor="middle" textLength="161.56" lengthAdjust="spacingAndGlyphs" transform="rotate(-90 377.80 334.90)">Switching barrier (meV/cation)</text>
<rect x="298.30" y="140.40" width="39.30" height="54.00" rx="1.6" fill="#fff" stroke="#cbcbcb" stroke-width="1.0"/>
<line x1="300.70" y1="146.00" x2="316.70" y2="146.00" stroke="#d01a3a" stroke-width="1.5"/>
<circle cx="308.70" cy="146.00" r="2.55" fill="#d01a3a"/>
<text x="321.40" y="148.30" font-size="6.80" textLength="12.27" lengthAdjust="spacingAndGlyphs" style="stroke-width:0.12px">-2%</text>
<line x1="300.70" y1="156.30" x2="316.70" y2="156.30" stroke="#e48244" stroke-width="1.5"/>
<circle cx="308.70" cy="156.30" r="2.55" fill="#e48244"/>
<text x="321.40" y="158.60" font-size="6.80" textLength="12.27" lengthAdjust="spacingAndGlyphs" style="stroke-width:0.12px">-1%</text>
<line x1="300.70" y1="166.60" x2="316.70" y2="166.60" stroke="#038c4e" stroke-width="1.5"/>
<circle cx="308.70" cy="166.60" r="2.55" fill="#038c4e"/>
<text x="321.40" y="168.90" font-size="6.80" textLength="9.99" lengthAdjust="spacingAndGlyphs" style="stroke-width:0.12px">0%</text>
<line x1="300.70" y1="176.90" x2="316.70" y2="176.90" stroke="#0a9acf" stroke-width="1.5"/>
<circle cx="308.70" cy="176.90" r="2.55" fill="#0a9acf"/>
<text x="321.40" y="179.20" font-size="6.80" textLength="9.99" lengthAdjust="spacingAndGlyphs" style="stroke-width:0.12px">1%</text>
<line x1="300.70" y1="187.20" x2="316.70" y2="187.20" stroke="#066091" stroke-width="1.5"/>
<circle cx="308.70" cy="187.20" r="2.55" fill="#066091"/>
<text x="321.40" y="189.50" font-size="6.80" textLength="9.99" lengthAdjust="spacingAndGlyphs" style="stroke-width:0.12px">2%</text>
<rect x="290.80" y="239.90" width="45.80" height="74.20" rx="1.6" fill="#fff" stroke="#cbcbcb" stroke-width="1.0"/>
<line x1="292.90" y1="245.50" x2="308.70" y2="245.50" stroke="#066091" stroke-width="1.5"/>
<circle cx="300.80" cy="245.50" r="2.55" fill="#066091"/>
<text x="314.00" y="247.80" font-size="6.80" textLength="17.02" lengthAdjust="spacingAndGlyphs" style="stroke-width:0.12px">x = 0</text>
<line x1="292.90" y1="255.77" x2="308.70" y2="255.77" stroke="#0a9acf" stroke-width="1.5"/>
<circle cx="300.80" cy="255.77" r="2.55" fill="#0a9acf"/>
<text x="314.00" y="258.07" font-size="6.80" textLength="17.02" lengthAdjust="spacingAndGlyphs" style="stroke-width:0.12px">x = 2</text>
<line x1="292.90" y1="266.04" x2="308.70" y2="266.04" stroke="#038c4e" stroke-width="1.5"/>
<circle cx="300.80" cy="266.04" r="2.55" fill="#038c4e"/>
<text x="314.00" y="268.34" font-size="6.80" textLength="17.02" lengthAdjust="spacingAndGlyphs" style="stroke-width:0.12px">x = 4</text>
<line x1="292.90" y1="276.31" x2="308.70" y2="276.31" stroke="#e48244" stroke-width="1.5"/>
<circle cx="300.80" cy="276.31" r="2.55" fill="#e48244"/>
<text x="314.00" y="278.61" font-size="6.80" textLength="17.02" lengthAdjust="spacingAndGlyphs" style="stroke-width:0.12px">x = 6</text>
<line x1="292.90" y1="286.58" x2="308.70" y2="286.58" stroke="#d01a3a" stroke-width="1.5"/>
<circle cx="300.80" cy="286.58" r="2.55" fill="#d01a3a"/>
<text x="314.00" y="288.88" font-size="6.80" textLength="17.02" lengthAdjust="spacingAndGlyphs" style="stroke-width:0.12px">x = 8</text>
<line x1="292.90" y1="296.85" x2="308.70" y2="296.85" stroke="#be116e" stroke-width="1.5"/>
<circle cx="300.80" cy="296.85" r="2.55" fill="#be116e"/>
<text x="314.00" y="299.15" font-size="6.80" textLength="21.03" lengthAdjust="spacingAndGlyphs" style="stroke-width:0.12px">x = 10</text>
<line x1="292.90" y1="307.12" x2="308.70" y2="307.12" stroke="#6e186b" stroke-width="1.5"/>
<circle cx="300.80" cy="307.12" r="2.55" fill="#6e186b"/>
<text x="314.00" y="309.42" font-size="6.80" textLength="21.03" lengthAdjust="spacingAndGlyphs" style="stroke-width:0.12px">x = 12</text>
</svg>
</body></html>
